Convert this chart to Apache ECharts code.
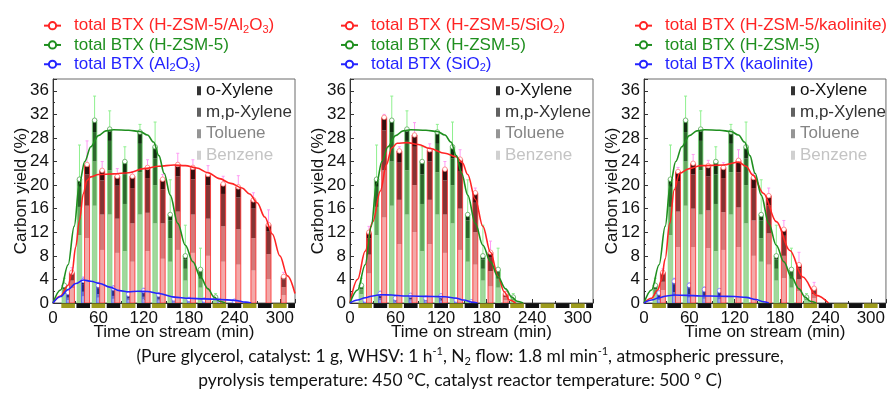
<!DOCTYPE html>
<html>
<head>
<meta charset="utf-8">
<script src="https://cdn.jsdelivr.net/npm/echarts@6/dist/echarts.min.js"></script>
<style>
html,body{margin:0;padding:0;background:#fff;}
#chart{width:888px;height:393px;}
</style>
</head>
<body>
<div id="chart"></div>
<script>
// ---- BTX yields per 20-min collection interval (interval centre, min) ----
// H-ZSM-5 alone (same reference run in all three panels)
const zsmTimes     = [20, 40, 60, 80, 100, 120, 140, 160, 180, 200, 220];
const zsmBenzene   = [1.5, 11.5, 16.5, 15.0, 8.8, 15.0, 13.5, 7.0, 3.8, 2.6, 0.5];
const zsmToluene   = [0.8, 4.8, 7.5, 7.5, 8.0, 7.2, 6.5, 4.0, 2.0, 1.5, 0.3];
const zsmMpXylene  = [0.5, 3.4, 5.0, 5.0, 5.0, 4.8, 4.5, 3.0, 1.6, 1.2, 0.15];
const zsmOXylene   = [0.2, 1.3, 2.0, 2.0, 2.2, 2.0, 2.0, 1.0, 0.6, 0.4, 0.05];
const zsmErr       = [1.2, 5.8, 4.1, 3.1, 2.5, 1.3, 4.2, 5.9, 5.2, 3.6, 0.6];

// H-ZSM-5/Al2O3
const zsmAlTimes    = [20, 40, 60, 80, 100, 120, 140, 160, 180, 200, 220, 240, 260, 280, 300];
const zsmAlBenzene  = [2.5, 11.0, 9.0, 8.5, 7.0, 8.8, 7.5, 9.0, 8.5, 8.0, 7.0, 6.5, 5.5, 4.0, 1.3];
const zsmAlToluene  = [1.3, 5.5, 6.0, 5.8, 6.5, 6.5, 6.0, 6.5, 6.5, 6.3, 6.0, 6.0, 5.5, 4.3, 1.4];
const zsmAlMpXylene = [1.0, 5.3, 5.8, 5.6, 6.0, 5.9, 5.8, 6.0, 6.0, 5.7, 5.5, 5.4, 5.0, 3.8, 1.3];
const zsmAlOXylene  = [0.4, 1.7, 1.7, 1.6, 2.0, 1.8, 1.7, 2.0, 2.0, 1.8, 1.7, 1.8, 1.5, 1.2, 0.5];
const zsmAlErr      = [0.8, 4.0, 1.5, 1.3, 0.8, 1.3, 0.8, 1.9, 1.3, 1.5, 1.3, 1.9, 1.2, 2.5, 0.7];

// Al2O3 alone
const alTimes    = [20, 40, 60, 80, 100, 120, 140, 160, 180, 200, 220, 240];
const alBenzene  = [0.5, 1.1, 0.9, 0.7, 0.45, 0.6, 0.4, 0.2, 0.18, 0.15, 0.12, 0.1];
const alToluene  = [0.4, 0.8, 0.6, 0.5, 0.3, 0.45, 0.3, 0.15, 0.12, 0.1, 0.08, 0.06];
const alMpXylene = [0.6, 1.3, 1.0, 0.9, 0.5, 0.7, 0.5, 0.25, 0.2, 0.18, 0.14, 0.1];
const alOXylene  = [0.3, 0.6, 0.5, 0.4, 0.25, 0.35, 0.2, 0.1, 0.1, 0.07, 0.06, 0.04];
const alErr      = [0.3, 0.6, 0.5, 0.4, 0.3, 0.4, 0.3, 0.2, 0.2, 0.2, 0.1, 0.1];

// H-ZSM-5/SiO2
const zsmSiTimes    = [20, 40, 60, 80, 100, 120, 140, 160, 180, 200];
const zsmSiBenzene  = [5.0, 14.5, 10.0, 12.0, 10.0, 8.5, 9.0, 6.5, 2.8, 0.5];
const zsmSiToluene  = [3.2, 8.0, 7.5, 8.0, 7.5, 6.5, 7.0, 5.5, 2.6, 0.5];
const zsmSiMpXylene = [2.8, 6.8, 6.3, 6.5, 6.5, 5.8, 6.4, 5.0, 2.4, 0.45];
const zsmSiOXylene  = [1.0, 2.2, 2.0, 2.0, 2.0, 1.9, 2.0, 1.7, 0.8, 0.15];
const zsmSiErr      = [1.0, 0.5, 0.7, 2.1, 1.0, 1.3, 1.6, 0.8, 1.9, 0.4];

// SiO2 alone
const siTimes    = [20, 40, 60, 80, 100, 120, 140, 160];
const siBenzene  = [0.15, 0.45, 0.25, 0.4, 0.25, 0.35, 0.15, 0.06];
const siToluene  = [0.1, 0.35, 0.15, 0.25, 0.15, 0.25, 0.1, 0.04];
const siMpXylene = [0.17, 0.55, 0.28, 0.45, 0.28, 0.42, 0.17, 0.07];
const siOXylene  = [0.08, 0.25, 0.12, 0.2, 0.12, 0.18, 0.08, 0.03];
const siErr      = [0.2, 0.4, 0.3, 0.3, 0.3, 0.3, 0.2, 0.1];

// H-ZSM-5/kaolinite
const zsmKaTimes    = [20, 40, 60, 80, 100, 120, 140, 160, 180, 200, 220];
const zsmKaBenzene  = [2.2, 9.5, 9.5, 9.3, 9.0, 9.5, 8.0, 6.5, 4.2, 2.0, 0.8];
const zsmKaToluene  = [1.4, 6.0, 6.5, 6.4, 6.4, 6.7, 6.0, 5.3, 3.8, 2.0, 0.7];
const zsmKaMpXylene = [1.2, 5.2, 5.8, 5.8, 5.8, 6.0, 5.5, 4.8, 3.4, 1.9, 0.7];
const zsmKaOXylene  = [0.4, 1.6, 1.9, 1.8, 1.8, 2.0, 1.8, 1.6, 1.1, 0.6, 0.3];
const zsmKaErr      = [0.6, 0.7, 1.5, 0.9, 0.8, 1.8, 0.7, 1.3, 1.5, 2.1, 1.0];

// kaolinite alone
const kaTimes    = [20, 40, 60, 80, 100];
const kaBenzene  = [0.5, 1.1, 0.9, 0.7, 0.6];
const kaToluene  = [0.35, 0.75, 0.6, 0.45, 0.45];
const kaMpXylene = [0.6, 1.3, 1.0, 0.8, 0.75];
const kaOXylene  = [0.25, 0.55, 0.5, 0.35, 0.3];
const kaErr      = [0.3, 0.5, 0.4, 0.4, 0.3];

// ---- smoothed total-BTX trend curves [time, yield] ----
const zsmCurve = [[0,0],[10,2.2],[20,6.5],[28,13],[35,20.3],[42,24],[50,26.5],[60,28.4],[70,29.2],[80,29.4],[100,29.3],[115,29.1],[125,28.5],[133,27.3],[140,25],[147,22],[155,18.3],[165,13.5],[175,9.8],[185,7.0],[195,4.4],[205,2.4],[213,1.0],[220,0.3],[228,0]];
const zsmAlCurve = [[0,0],[10,1.2],[20,3.0],[25,5],[30,9.5],[35,14],[40,18.5],[45,20.8],[50,21.4],[60,21.8],[80,21.9],[100,22.1],[120,22.8],[140,23.2],[160,23.4],[175,23.3],[190,22.9],[205,22.1],[220,21.1],[235,20.3],[250,19.5],[260,18.5],[270,17.0],[280,14.6],[290,11.7],[300,8.0],[310,4.6],[320,1.6]];
const alCurve = [[0,0],[10,1.1],[20,2.3],[30,3.3],[40,3.9],[50,3.7],[62,3.3],[75,2.7],[88,2.1],[100,1.9],[112,2.0],[125,1.95],[140,1.6],[160,1.0],[180,0.8],[200,0.7],[220,0.6],[240,0.45],[255,0.15],[262,0]];
const zsmSiCurve = [[0,0],[10,4],[20,8.8],[30,13.8],[40,19],[48,23.5],[55,26.3],[62,27.1],[75,27.2],[90,26.9],[105,26.2],[125,25.4],[140,24.8],[148,23.8],[155,21.8],[165,17.6],[175,13],[185,8.6],[195,4.5],[203,1.9],[210,0.5],[218,0]];
const siCurve = [[0,0],[10,0.5],[20,0.9],[30,1.2],[40,1.4],[55,1.35],[70,1.2],[90,1.15],[110,1.1],[125,1.05],[140,0.8],[150,0.5],[160,0.15],[168,0]];
const zsmKaCurve = [[0,0],[10,0.8],[18,2.2],[23,3.8],[28,7.5],[34,13.5],[40,19.2],[47,22],[60,22.8],[75,23.3],[105,23.4],[125,23.9],[135,23.2],[144,21.7],[158,18.6],[175,13.8],[193,8.9],[210,4.4],[228,1.3],[244,0]];
const kaCurve = [[0,0],[10,0.5],[20,0.9],[30,1.2],[40,1.35],[55,1.3],[75,1.2],[100,1.15],[120,1.1],[135,0.95],[148,0.6],[158,0.2],[165,0]];

// collection intervals marked along the time axis
const intervalCenters = [20, 40, 60, 80, 100, 120, 140, 160, 180, 200, 220, 240, 260, 280, 300, 320];

// axis ranges and ticks
const timeMax = 320, timeStep = 60;
const yieldMax = 38, yieldStep = 4;

// ---- panel definitions ----
const panels = [
  { mix: 'H-ZSM-5/Al2O3', support: 'Al2O3',
    mixRows: [zsmAlTimes, zsmAlBenzene, zsmAlToluene, zsmAlMpXylene, zsmAlOXylene, zsmAlErr],
    supRows: [alTimes, alBenzene, alToluene, alMpXylene, alOXylene, alErr],
    mixCurve: zsmAlCurve, supCurve: alCurve },
  { mix: 'H-ZSM-5/SiO2', support: 'SiO2',
    mixRows: [zsmSiTimes, zsmSiBenzene, zsmSiToluene, zsmSiMpXylene, zsmSiOXylene, zsmSiErr],
    supRows: [siTimes, siBenzene, siToluene, siMpXylene, siOXylene, siErr],
    mixCurve: zsmSiCurve, supCurve: siCurve },
  { mix: 'H-ZSM-5/kaolinite', support: 'kaolinite',
    mixRows: [zsmKaTimes, zsmKaBenzene, zsmKaToluene, zsmKaMpXylene, zsmKaOXylene, zsmKaErr],
    supRows: [kaTimes, kaBenzene, kaToluene, kaMpXylene, kaOXylene, kaErr],
    mixCurve: zsmKaCurve, supCurve: kaCurve }
];
const zsmRows = [zsmTimes, zsmBenzene, zsmToluene, zsmMpXylene, zsmOXylene, zsmErr];

const gridBoxes = [
  { left: 53, width: 242 },
  { left: 350, width: 243 },
  { left: 644, width: 242 }
];
const GRID_TOP = 79, GRID_H = 224;

const FONT = "'Liberation Sans', Arial, Helvetica, sans-serif";
const CAPTION_FONT = "Lato, 'Open Sans', sans-serif";
const RED = '#ff2424', GREEN = '#1f8f1f', BLUE = '#2424ff';

// colour sets: benzene, toluene, m,p-xylene, o-xylene
const styles = {
  zsm: { offset: -5, width: 4.5, fills: ['#a4d59e', '#66a761', '#2d672d', '#112e11'], edge: '#7ee07e', err: '#8ff08f', mark: '#5aa85a' },
  mix: { offset: 5, width: 5, fills: ['#f2a9a9', '#d27a7a', '#833535', '#331010'], edge: '#ff2a2a', err: '#ff9cf4', mark: '#ff7a7a' },
  sup: { offset: 0, width: 3.5, fills: ['#a4aaea', '#6d76c8', '#2b337e', '#0e123e'], edge: '#4a5aff', err: '#b393ff', mark: '#7a7aff' }
};

function toRows(cols) {
  return cols[0].map((t, i) => [t, cols[1][i], cols[2][i], cols[3][i], cols[4][i], cols[5][i]]);
}

function barRenderer(st) {
  return function (params, api) {
    const t = api.value(0) + st.offset;
    const parts = [api.value(1), api.value(2), api.value(3), api.value(4)];
    const err = api.value(5);
    const cx = api.coord([t, 0])[0];
    const half = st.width / 2;
    const children = [];
    let acc = 0;
    parts.forEach((v, k) => {
      const lo = api.coord([t, acc])[1];
      const hi = api.coord([t, acc + v])[1];
      children.push({ type: 'rect', shape: { x: cx - half, y: hi, width: st.width, height: lo - hi },
                      style: { fill: st.fills[k] } });
      acc += v;
    });
    const base = api.coord([t, 0])[1];
    const top = api.coord([t, acc])[1];
    const errTop = api.coord([t, acc + err])[1];
    children.push({ type: 'rect', shape: { x: cx - half, y: top, width: st.width, height: base - top },
                    style: { fill: 'none', stroke: st.edge, lineWidth: 0.8 } });
    children.push({ type: 'line', shape: { x1: cx, y1: top, x2: cx, y2: errTop },
                    style: { stroke: st.err, lineWidth: 1 } });
    children.push({ type: 'line', shape: { x1: cx - 1.5, y1: errTop, x2: cx + 1.5, y2: errTop },
                    style: { stroke: st.err, lineWidth: 1 } });
    children.push({ type: 'circle', shape: { cx: cx, cy: top, r: 2.3 },
                    style: { fill: '#ffffff', stroke: st.mark, lineWidth: 0.8 } });
    return { type: 'group', children: children };
  };
}

function segmentRenderer(params, api) {
  const c = api.value(0);
  const cs = params.coordSys;
  let x0 = api.coord([c - 9, 0])[0];
  let x1 = api.coord([c + 9, 0])[0];
  x0 = Math.max(x0, cs.x);
  x1 = Math.min(x1, cs.x + cs.width);
  return { type: 'rect', shape: { x: x0, y: cs.y + cs.height + 0.5, width: x1 - x0, height: 4.5 },
           style: { fill: params.dataIndex % 2 ? '#111111' : '#9d9b1c' } };
}

function richName(name) {
  return name.replace('Al2O3', 'Al{s|2}O{s|3}').replace('SiO2', 'SiO{s|2}');
}

const grids = [], xAxes = [], yAxes = [], series = [], legends = [];

panels.forEach((p, i) => {
  const g = gridBoxes[i];
  grids.push({ left: g.left, width: g.width, top: GRID_TOP, height: GRID_H,
               show: true, borderColor: '#6a6a6a', borderWidth: 1, backgroundColor: 'transparent' });
  xAxes.push({
    type: 'value', gridIndex: i, min: 0, max: timeMax, interval: timeStep,
    name: 'Time on stream (min)', nameLocation: 'middle', nameGap: 21, nameMoveOverlap: false,
    nameTextStyle: { fontSize: 17, color: '#111', fontFamily: FONT },
    axisLine: { show: true, lineStyle: { color: '#333', width: 1 } },
    axisTick: { show: true, inside: true, length: 4, lineStyle: { color: '#333' } },
    minorTick: { show: true, splitNumber: 2, length: 2, lineStyle: { color: '#333' } },
    axisLabel: { fontSize: 17, color: '#111', margin: 7, fontFamily: FONT, showMaxLabel: false },
    splitLine: { show: false }
  });
  yAxes.push({
    type: 'value', gridIndex: i, min: 0, max: yieldMax, interval: yieldStep,
    name: 'Carbon yield (%)', nameLocation: 'middle', nameGap: 23, nameMoveOverlap: false,
    nameTextStyle: { fontSize: 17, color: '#111', fontFamily: FONT },
    axisLine: { show: true, lineStyle: { color: '#333', width: 1 } },
    axisTick: { show: true, inside: true, length: 4, lineStyle: { color: '#333' } },
    minorTick: { show: true, splitNumber: 2, length: 2, lineStyle: { color: '#333' } },
    axisLabel: { fontSize: 17, color: '#111', margin: 4, fontFamily: FONT, showMaxLabel: false },
    splitLine: { show: false }
  });

  // collection-interval strip on the time axis
  series.push({ type: 'custom', xAxisIndex: i, yAxisIndex: i, clip: false, z: 5, silent: true,
                data: intervalCenters.map(c => [c]), renderItem: segmentRenderer });

  // stacked BTX bars
  series.push({ type: 'custom', xAxisIndex: i, yAxisIndex: i, clip: true, z: 2, silent: true,
                data: toRows(zsmRows), renderItem: barRenderer(styles.zsm) });
  series.push({ type: 'custom', xAxisIndex: i, yAxisIndex: i, clip: true, z: 2, silent: true,
                data: toRows(p.supRows), renderItem: barRenderer(styles.sup) });
  series.push({ type: 'custom', xAxisIndex: i, yAxisIndex: i, clip: true, z: 2, silent: true,
                data: toRows(p.mixRows), renderItem: barRenderer(styles.mix) });

  // total BTX trend curves
  const curve = (name, data, color) => ({
    type: 'line', name: name, xAxisIndex: i, yAxisIndex: i, data: data, z: 4,
    smooth: 0.35, smoothMonotone: 'x', showSymbol: false, symbol: 'emptyCircle', symbolSize: 7,
    itemStyle: { color: color }, lineStyle: { color: color, width: 1.6 }, silent: true
  });
  series.push(curve('total BTX (' + p.mix + ')', p.mixCurve, RED));
  series.push(curve('total BTX (H-ZSM-5)', zsmCurve, GREEN));
  series.push(curve('total BTX (' + p.support + ')', p.supCurve, BLUE));

  legends.push({
    orient: 'vertical', left: g.left - 15, top: 11, itemWidth: 17, itemHeight: 9, itemGap: 0,
    selectedMode: false,
    formatter: richName,
    textStyle: { fontSize: 17, fontFamily: FONT, lineHeight: 19.3, padding: [0, 0, 0, 8],
                 rich: { s: { fontSize: 11, lineHeight: 11, verticalAlign: 'bottom', fontFamily: FONT } } },
    data: [
      { name: 'total BTX (' + p.mix + ')', textStyle: { color: RED } },
      { name: 'total BTX (H-ZSM-5)', textStyle: { color: GREEN } },
      { name: 'total BTX (' + p.support + ')', textStyle: { color: BLUE } }
    ]
  });
});

// component key (empty series so the key carries the component colours)
const components = [
  { name: 'o-Xylene', color: '#000000', text: '#111111' },
  { name: 'm,p-Xylene', color: '#3a3a3a', text: '#333333' },
  { name: 'Toluene', color: '#7a7a7a', text: '#858585' },
  { name: 'Benzene', color: '#c4c4c4', text: '#c4c4c4' }
];
components.forEach(c => {
  series.push({ type: 'scatter', name: c.name, data: [], xAxisIndex: 0, yAxisIndex: 0,
                itemStyle: { color: c.color } });
});
const keyLefts = [192, 491, 786];
keyLefts.forEach(x => {
  legends.push({
    orient: 'vertical', left: x, top: 75, icon: 'rect', itemWidth: 4, itemHeight: 9, itemGap: 0,
    selectedMode: false,
    textStyle: { fontSize: 17, fontFamily: FONT, lineHeight: 21.5, padding: [0, 0, 0, 0] },
    data: components.map(c => ({ name: c.name, textStyle: { color: c.text } }))
  });
});

const chart = echarts.init(document.getElementById('chart'), null, { renderer: 'canvas' });
chart.setOption({
  backgroundColor: '#ffffff',
  animation: false,
  textStyle: { fontFamily: FONT },
  grid: grids,
  xAxis: xAxes,
  yAxis: yAxes,
  legend: legends,
  series: series,
  graphic: [
    {
      type: 'text', x: 460, y: 346,
      style: {
        text: '(Pure glycerol, catalyst: 1 g, WHSV: 1 h{sup|-1}, N{sub|2} flow: 1.8 ml min{sup|-1}, atmospheric pressure,',
        textAlign: 'center', fill: '#111', fontSize: 17.4, fontFamily: CAPTION_FONT, lineHeight: 21,
        rich: {
          sup: { fontSize: 11, lineHeight: 11, verticalAlign: 'top', fontFamily: CAPTION_FONT },
          sub: { fontSize: 11, lineHeight: 11, verticalAlign: 'bottom', fontFamily: CAPTION_FONT }
        }
      }
    },
    {
      type: 'text', x: 460, y: 370,
      style: {
        text: 'pyrolysis temperature: 450 °C, catalyst reactor temperature: 500 ° C)',
        textAlign: 'center', fill: '#111', fontSize: 17.4, fontFamily: CAPTION_FONT, lineHeight: 21
      }
    }
  ]
});
</script>
</body>
</html>
